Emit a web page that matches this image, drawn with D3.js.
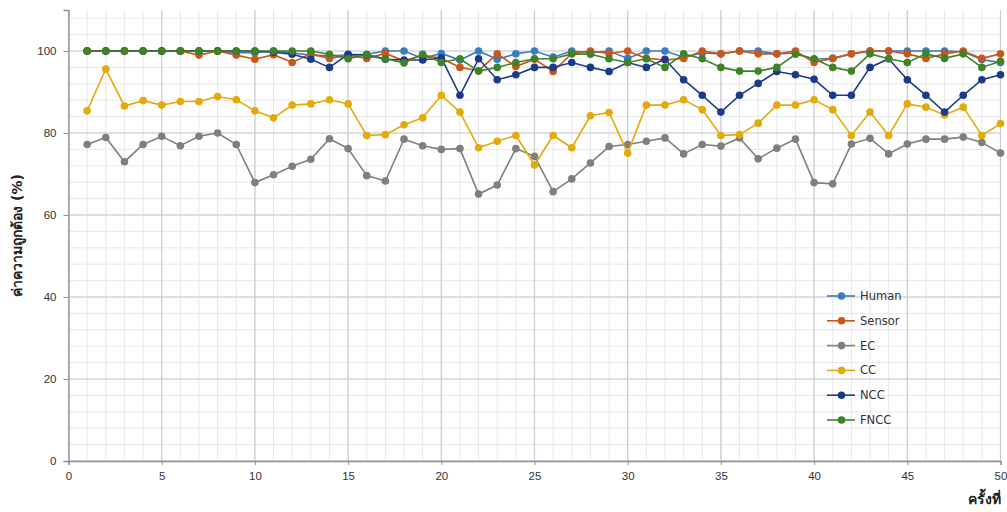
<!DOCTYPE html>
<html>
<head>
<meta charset="utf-8">
<script src="https://cdn.jsdelivr.net/npm/d3@7"></script>
<style>
  html, body { margin: 0; padding: 0; background: #fff; }
  svg { display: block; font-family: "DejaVu Sans", "Noto Sans", sans-serif; }
</style>
</head>
<body>
<svg id="chart" width="1007" height="512"></svg>
<script>
// Accuracy (%) per trial for each method
const trials = d3.range(1, 51);

const human = [100,100,100,100,100,100,100,100,99.6,99.6,100,99.5,99.0,98.8,99.0,99.2,100,100,98.2,99.4,
  97.8,100,98.0,99.3,100,98.5,100,99.5,100,98.2,100,100,98.5,99.5,99.3,100,100,99.3,99.5,98.0,
  98.2,99.3,100,100,100,100,100,99.8,97.9,97.2];
const sensor = [100,100,100,100,100,100,99.0,100,99.0,98.0,99.1,97.2,99.3,98.2,99.0,98.2,99.4,97.6,99.0,98.2,
  96.0,95.2,99.3,96.2,98.0,95.0,99.4,100,99.4,100,98.2,97.8,98.2,100,99.3,100,99.3,99.3,100,97.2,
  98.2,99.3,100,100,99.3,98.2,99.3,100,98.2,99.3];
const ec = [77.2,78.9,73.0,77.2,79.2,76.9,79.2,80.0,77.2,67.9,69.8,71.9,73.6,78.6,76.2,69.6,68.3,78.5,76.9,76.0,
  76.2,65.1,67.3,76.2,74.3,65.7,68.8,72.7,76.7,77.2,78.0,78.8,74.9,77.2,76.8,78.8,73.7,76.3,78.5,67.9,
  67.6,77.3,78.7,74.9,77.3,78.5,78.5,79.0,77.7,75.1];
const cc = [85.4,95.6,86.6,87.9,86.8,87.7,87.7,88.9,88.1,85.4,83.7,86.8,87.1,88.1,87.1,79.4,79.6,82.0,83.7,89.2,
  85.1,76.4,78.0,79.4,72.2,79.4,76.4,84.2,85.0,75.1,86.8,86.8,88.1,85.7,79.4,79.6,82.4,86.8,86.8,88.1,
  85.7,79.4,85.1,79.4,87.1,86.3,84.4,86.3,79.4,82.3];
const ncc = [100,100,100,100,100,100,100,100,100,100,99.7,99.2,98.0,96.0,99.2,99.0,98.0,97.8,97.8,98.3,
  89.2,98.1,93.0,94.2,96.0,96.0,97.2,96.0,95.0,97.2,96.0,98.0,93.0,89.2,85.1,89.2,92.1,95.0,94.2,93.1,
  89.2,89.2,96.0,98.1,93.0,89.2,85.1,89.2,93.0,94.2];
const fncc = [100,100,100,100,100,100,100,100,100,100,100,100,100,99.2,98.1,99.1,98.1,97.1,99.2,97.2,
  98.1,95.1,96.0,97.2,98.1,98.1,99.3,99.2,98.1,97.2,98.1,96.0,99.3,98.1,96.0,95.1,95.1,96.0,99.2,98.1,
  96.0,95.1,99.3,98.1,97.2,99.3,98.2,99.3,96.0,97.5];

const seriesNames = ["Human", "Sensor", "EC", "CC", "NCC", "FNCC"];
const seriesValues = [human, sensor, ec, cc, ncc, fncc];
const seriesColors = ["#3A7DBF", "#C9561A", "#7F7F7F", "#E2AA0A", "#1C3A8A", "#3F8326"];

const xTicks = [0, 5, 10, 15, 20, 25, 30, 35, 40, 45, 50];
const yTicks = [0, 20, 40, 60, 80, 100];

const yTitle = "ค่าความถูกต้อง (%)";
const xTitle = "ครั้งที่";

const svg = d3.select("#chart");
const margin = { left: 68.5, right: 6.5, top: 10, bottom: 51 };
const W = 1007, H = 512;

const x = d3.scaleLinear().domain([0, 50]).range([margin.left, W - margin.right]);
const y = d3.scaleLinear().domain([0, 110]).range([H - margin.bottom, margin.top]);

const grid = svg.append("g");
// minor grid
grid.selectAll("line.vx").data(d3.range(0, 51, 1)).join("line")
  .attr("x1", d => x(d)).attr("x2", d => x(d))
  .attr("y1", y(0)).attr("y2", y(110))
  .attr("stroke", "#e7e8ed").attr("stroke-width", 1);
grid.selectAll("line.hy").data(d3.range(0, 111, 4)).join("line")
  .attr("x1", x(0)).attr("x2", x(50))
  .attr("y1", d => y(d)).attr("y2", d => y(d))
  .attr("stroke", "#e7e8ed").attr("stroke-width", 1);
// major grid
grid.selectAll("line.mx").data(xTicks).join("line")
  .attr("x1", d => x(d)).attr("x2", d => x(d))
  .attr("y1", y(0)).attr("y2", y(110))
  .attr("stroke", "#c9ccd4").attr("stroke-width", 1.2);
grid.selectAll("line.my").data(yTicks).join("line")
  .attr("x1", x(0)).attr("x2", x(50))
  .attr("y1", d => y(d)).attr("y2", d => y(d))
  .attr("stroke", "#c9ccd4").attr("stroke-width", 1.2);

// axes
const xAxis = d3.axisBottom(x).tickValues(xTicks).tickSize(4).tickPadding(7);
const yAxis = d3.axisLeft(y).tickValues(yTicks).tickSize(5).tickPadding(7);
const gx = svg.append("g").attr("transform", `translate(0,${y(0)})`).call(xAxis);
const gy = svg.append("g").attr("transform", `translate(${x(0)},0)`).call(yAxis);
[gx, gy].forEach(g => {
  g.select(".domain").attr("stroke", "#8b909a").attr("stroke-width", 1.3);
  g.selectAll(".tick line").attr("stroke", "#8b909a");
  g.selectAll(".tick text").attr("fill", "#333").attr("font-size", 11.5);
});

// series
const line = d3.line().x((d, i) => x(trials[i])).y(d => y(d));
seriesValues.forEach((vals, k) => {
  const g = svg.append("g");
  g.append("path").datum(vals)
    .attr("d", line).attr("fill", "none")
    .attr("stroke", seriesColors[k]).attr("stroke-width", 1.6);
  g.selectAll("circle").data(vals).join("circle")
    .attr("cx", (d, i) => x(trials[i])).attr("cy", d => y(d))
    .attr("r", 3.8).attr("fill", seriesColors[k]);
});

// legend
const legend = svg.append("g").attr("transform", "translate(827,296)");
seriesNames.forEach((name, k) => {
  const row = legend.append("g").attr("transform", `translate(0,${k * 24.8})`);
  row.append("line").attr("x1", 0).attr("x2", 28).attr("y1", 0).attr("y2", 0)
    .attr("stroke", seriesColors[k]).attr("stroke-width", 1.6);
  row.append("circle").attr("cx", 14.5).attr("cy", 0).attr("r", 3.8).attr("fill", seriesColors[k]);
  row.append("text").attr("x", 33).attr("y", 0).attr("dy", "0.35em")
    .attr("font-size", 11.5).attr("fill", "#333").text(name);
});

// axis titles
svg.append("text")
  .attr("transform", `translate(22,${y(55)}) rotate(-90)`)
  .attr("text-anchor", "middle").attr("font-size", 14).attr("font-weight", "bold")
  .attr("fill", "#222").text(yTitle);
svg.append("text")
  .attr("x", 968).attr("y", 504)
  .attr("font-size", 14).attr("font-weight", "bold")
  .attr("fill", "#222").text(xTitle);
</script>
</body>
</html>
